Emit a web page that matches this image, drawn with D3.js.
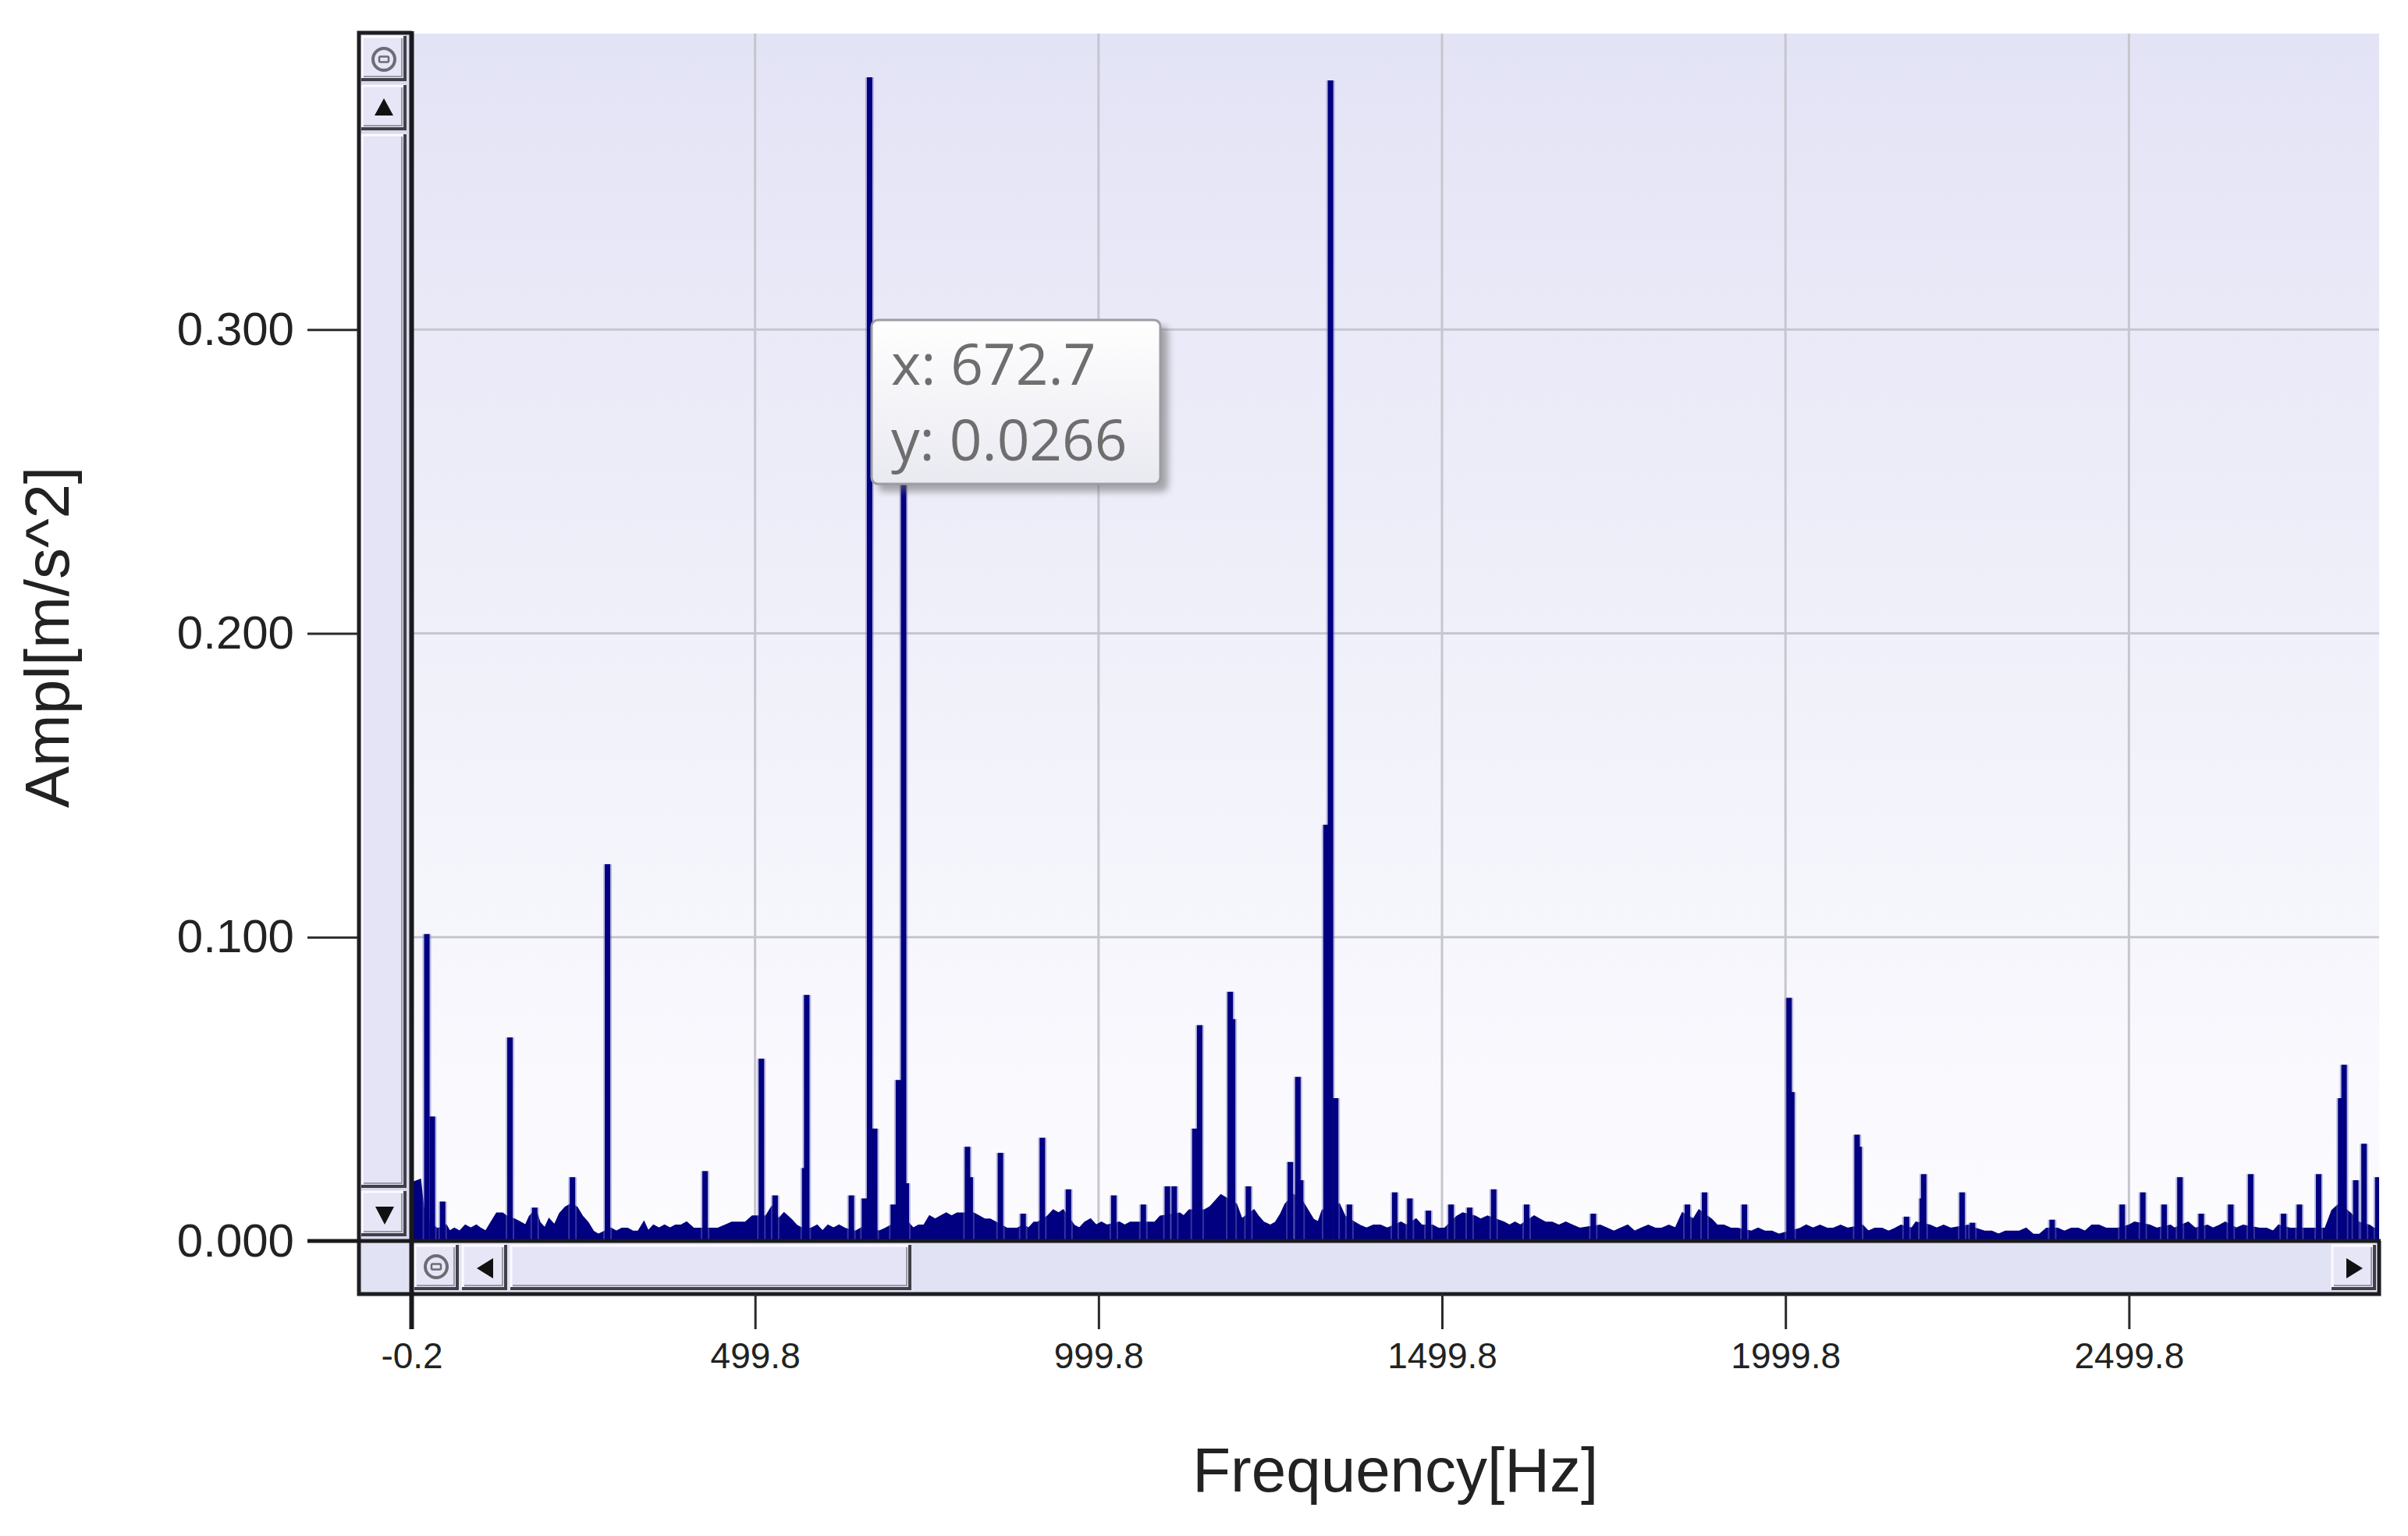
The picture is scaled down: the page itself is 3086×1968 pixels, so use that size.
<!DOCTYPE html>
<html><head><meta charset="utf-8">
<script src="https://cdn.jsdelivr.net/npm/d3@7"></script>
<style>html,body{margin:0;padding:0;background:#fff;} svg{display:block}</style>
</head><body>
<svg id="chart" width="3086" height="1968"></svg>
<script>
// ---------------- DATA ----------------
const xTickValues = [-0.2, 499.8, 999.8, 1499.8, 1999.8, 2499.8];
const xTickLabels = ["-0.2", "499.8", "999.8", "1499.8", "1999.8", "2499.8"];
const yTickValues = [0, 0.1, 0.2, 0.3];
const yTickLabels = ["0.000", "0.100", "0.200", "0.300"];
const xTitle = "Frequency[Hz]";
const yTitle = "Ampl[m/s^2]";
const tooltipLines = ["x: 672.7", "y: 0.0266"];

// noise floor of the spectrum: [Hz, amplitude]
const floorPoints = [
 [0,0.019],[12,0.020],[18,0.008],[26,0.006],[36,0.004],[40,0.004],[50,0.005],[55,0.003],[62,0.004],[70,0.003],
 [78,0.005],[86,0.004],[94,0.005],[100,0.004],[108,0.003],[116,0.006],[124,0.009],[132,0.009],[138,0.008],[150,0.007],
 [158,0.006],[166,0.005],[172,0.008],[180,0.010],[186,0.006],[194,0.004],[200,0.007],[208,0.005],[216,0.009],[224,0.011],
 [232,0.012],[240,0.011],[248,0.008],[256,0.006],[264,0.003],[272,0.002],[290,0.004],[298,0.003],[306,0.004],[314,0.004],
 [322,0.003],[330,0.003],[338,0.006],[344,0.003],[352,0.005],[360,0.004],[368,0.005],[376,0.004],[384,0.005],[392,0.005],
 [400,0.006],[410,0.004],[418,0.004],[436,0.004],[446,0.004],[456,0.005],[466,0.006],[476,0.006],[486,0.006],[496,0.008],
 [516,0.008],[524,0.011],[534,0.007],[542,0.009],[552,0.007],[560,0.005],[568,0.004],[582,0.004],[590,0.005],[598,0.003],
 [606,0.005],[614,0.004],[622,0.005],[630,0.004],[646,0.003],[654,0.004],[662,0.005],[680,0.003],[690,0.004],[698,0.005],
 [704,0.004],[722,0.006],[730,0.004],[738,0.005],[746,0.005],[754,0.008],[762,0.007],[770,0.008],[778,0.009],[786,0.008],
 [794,0.009],[800,0.009],[818,0.009],[826,0.008],[834,0.007],[842,0.007],[850,0.006],[866,0.004],[874,0.004],[882,0.004],
 [890,0.005],[898,0.004],[906,0.006],[912,0.006],[926,0.008],[934,0.010],[942,0.009],[948,0.010],[964,0.005],[972,0.004],
 [980,0.006],[988,0.007],[996,0.005],[1004,0.006],[1012,0.005],[1030,0.006],[1038,0.005],[1046,0.006],[1054,0.006],[1074,0.006],
 [1082,0.006],[1090,0.008],[1118,0.009],[1124,0.008],[1132,0.010],[1154,0.010],[1162,0.011],[1170,0.013],[1178,0.015],[1200,0.012],
 [1208,0.007],[1226,0.010],[1232,0.008],[1240,0.006],[1250,0.005],[1258,0.006],[1266,0.009],[1272,0.012],[1284,0.015],[1296,0.013],
 [1304,0.010],[1312,0.007],[1320,0.006],[1326,0.010],[1350,0.012],[1358,0.008],[1372,0.006],[1380,0.005],[1390,0.004],[1400,0.005],
 [1410,0.005],[1420,0.004],[1440,0.006],[1448,0.005],[1462,0.007],[1470,0.005],[1486,0.005],[1494,0.004],[1504,0.004],[1522,0.008],
 [1530,0.009],[1548,0.008],[1556,0.007],[1566,0.008],[1590,0.006],[1598,0.005],[1606,0.006],[1614,0.005],[1634,0.008],[1642,0.007],
 [1650,0.006],[1660,0.006],[1670,0.005],[1680,0.006],[1690,0.005],[1700,0.004],[1730,0.005],[1740,0.004],[1750,0.003],[1760,0.004],
 [1770,0.005],[1780,0.003],[1790,0.004],[1800,0.005],[1810,0.004],[1820,0.004],[1830,0.005],[1840,0.004],[1850,0.009],[1866,0.007],
 [1874,0.010],[1892,0.007],[1900,0.005],[1910,0.005],[1920,0.004],[1930,0.004],[1950,0.003],[1960,0.004],[1970,0.003],[1980,0.003],
 [1990,0.002],[2022,0.004],[2030,0.005],[2040,0.004],[2050,0.005],[2060,0.004],[2070,0.004],[2080,0.005],[2090,0.004],[2112,0.005],
 [2120,0.003],[2130,0.004],[2140,0.004],[2150,0.003],[2160,0.004],[2168,0.005],[2184,0.004],[2190,0.006],[2210,0.005],[2220,0.004],
 [2230,0.005],[2240,0.004],[2266,0.005],[2276,0.004],[2290,0.003],[2300,0.003],[2310,0.002],[2320,0.003],[2330,0.003],[2340,0.003],
 [2350,0.004],[2360,0.002],[2370,0.002],[2380,0.004],[2396,0.004],[2406,0.003],[2416,0.004],[2426,0.004],[2436,0.003],[2446,0.005],
 [2456,0.005],[2466,0.004],[2476,0.004],[2484,0.004],[2500,0.005],[2508,0.006],[2530,0.005],[2540,0.004],[2560,0.005],[2566,0.004],
 [2586,0.006],[2596,0.004],[2614,0.005],[2622,0.004],[2632,0.005],[2640,0.006],[2656,0.004],[2666,0.005],[2690,0.004],[2700,0.004],
 [2710,0.003],[2718,0.005],[2734,0.004],[2742,0.004],[2756,0.004],[2766,0.004],[2786,0.004],[2796,0.010],[2806,0.012],[2822,0.009],
 [2834,0.006],[2850,0.005],[2856,0.004],[2864,0.004]
];
// spectral lines: [Hz, amplitude]
const peakPoints = [
 [22,0.101],[30,0.041],[45,0.013],[143,0.067],[179,0.011],[234,0.021],[285,0.124],[427,0.023],[509,0.060],[529,0.015],
 [572,0.024],[575,0.081],[640,0.015],[659,0.014],[666.5,0.383],[674,0.037],[701,0.012],[708.5,0.053],[716,0.262],[720,0.019],
 [809,0.031],[813,0.021],[857,0.029],[890,0.009],[918,0.034],[956,0.017],[1022,0.015],[1065,0.012],[1100,0.018],[1110,0.018],
 [1140,0.037],[1147,0.071],[1191.5,0.082],[1195,0.073],[1218,0.018],[1279,0.026],[1290,0.054],[1294,0.020],[1331,0.137],[1337.5,0.382],
 [1345,0.047],[1365,0.012],[1431,0.016],[1453,0.014],[1480,0.010],[1513,0.012],[1540,0.011],[1575,0.017],[1623,0.012],[1720,0.009],
 [1857,0.012],[1882,0.016],[1940,0.012],[2005,0.080],[2009,0.049],[2104,0.035],[2107,0.031],[2176,0.008],[2199,0.014],[2201,0.022],
 [2257,0.016],[2272,0.006],[2388,0.007],[2490,0.012],[2520,0.016],[2551,0.012],[2574,0.021],[2605,0.009],[2648,0.012],[2677,0.022],
 [2725,0.009],[2748,0.012],[2776,0.022],[2808,0.047],[2813,0.058],[2830,0.020],[2842,0.032],[2862,0.021]
];

// ---------------- LAYOUT ----------------
const L = 527.5, R = 3049, T = 43, B = 1590;
const FL = 460, FB = 1658;           // frame left / bottom
const navy = "#000080";

const svg = d3.select("#chart");
const defs = svg.append("defs");

const bg = defs.append("linearGradient").attr("id","bg").attr("x1",0).attr("y1",0).attr("x2",0).attr("y2",1);
bg.append("stop").attr("offset","0%").attr("stop-color","#e3e3f6");
bg.append("stop").attr("offset","50%").attr("stop-color","#f0f0fa");
bg.append("stop").attr("offset","100%").attr("stop-color","#fcfcff");

const tg = defs.append("linearGradient").attr("id","tipbg").attr("x1",0).attr("y1",0).attr("x2",0).attr("y2",1);
tg.append("stop").attr("offset","0%").attr("stop-color","#ffffff");
tg.append("stop").attr("offset","100%").attr("stop-color","#e9e9f1");

const sh = defs.append("filter").attr("id","shadow").attr("x","-20%").attr("y","-20%").attr("width","150%").attr("height","150%");
sh.append("feGaussianBlur").attr("stdDeviation",5);

const clip = defs.append("clipPath").attr("id","plotclip");
clip.append("rect").attr("x",L).attr("y",T).attr("width",R-L).attr("height",B-T);

const x = d3.scaleLinear().domain([-0.2, 2864]).range([L, R]);
const y = d3.scaleLinear().domain([0, 0.3974]).range([B, T]);

// plot background
svg.append("rect").attr("x",L).attr("y",T).attr("width",R-L).attr("height",B-T).attr("fill","url(#bg)");

// grid
const grid = svg.append("g").attr("stroke","#c6c6ce").attr("stroke-width",3);
grid.selectAll("line.vx").data(xTickValues.slice(1)).join("line")
  .attr("x1",d=>x(d)).attr("x2",d=>x(d)).attr("y1",T).attr("y2",B);
grid.selectAll("line.hy").data(yTickValues.slice(1)).join("line")
  .attr("x1",L).attr("x2",R).attr("y1",d=>y(d)).attr("y2",d=>y(d));

// spectrum
const spec = svg.append("g").attr("clip-path","url(#plotclip)");
const area = d3.area().x(d=>x(d[0])).y0(B).y1(d=>y(d[1]));
spec.append("path").datum(floorPoints).attr("d",area).attr("fill",navy)
  .attr("stroke",navy).attr("stroke-width",3).attr("stroke-linejoin","miter");
spec.selectAll("line.halo").data(peakPoints).join("line")
  .attr("x1",d=>x(d[0])).attr("x2",d=>x(d[0])).attr("y1",B).attr("y2",d=>y(d[1]))
  .attr("stroke","#7070c0").attr("stroke-opacity",0.45).attr("stroke-width",11);
spec.selectAll("line.pk").data(peakPoints).join("line")
  .attr("x1",d=>x(d[0])).attr("x2",d=>x(d[0])).attr("y1",B).attr("y2",d=>y(d[1]))
  .attr("stroke",navy).attr("stroke-width",7);

// ---------------- SCROLLBARS ----------------
const ui = svg.append("g");
function bevel(g, bx, by, bw, bh, fill) {
  g.append("rect").attr("x",bx).attr("y",by).attr("width",bw).attr("height",bh).attr("fill",fill||"#e6e6f7");
  g.append("path").attr("d",`M${bx+1},${by+bh-2} V${by+1} H${bx+bw-2}`).attr("fill","none").attr("stroke","#fbfbff").attr("stroke-width",3);
  g.append("path").attr("d",`M${bx},${by+bh-2} H${bx+bw-2} V${by}`).attr("fill","none").attr("stroke","#404046").attr("stroke-width",4);
  g.append("path").attr("d",`M${bx+3},${by+bh-6} H${bx+bw-6} V${by+3}`).attr("fill","none").attr("stroke","#9a9aa8").attr("stroke-width",2);
}
function zoomIcon(g, cx, cy) {
  g.append("circle").attr("cx",cx).attr("cy",cy).attr("r",14).attr("fill","none").attr("stroke","#6c6c74").attr("stroke-width",4);
  g.append("rect").attr("x",cx-6).attr("y",cy-3.5).attr("width",12).attr("height",7).attr("rx",1.5)
    .attr("fill","none").attr("stroke","#6c6c74").attr("stroke-width",2.5);
}
// vertical scrollbar
ui.append("rect").attr("x",FL).attr("y",T).attr("width",L-FL).attr("height",B-T).attr("fill","#d9d9ee");
bevel(ui, 463, 46, 58, 58);
zoomIcon(ui, 492, 76);
bevel(ui, 463, 109, 58, 58);
ui.append("path").attr("d","M480,148 L504,148 L492,126 Z").attr("fill","#111");
bevel(ui, 463, 172, 58, 1350, "#e4e4f6");
bevel(ui, 463, 1526, 58, 58);
ui.append("path").attr("d","M481,1546 L505,1546 L493,1569 Z").attr("fill","#111");
ui.append("path").attr("d",`M${FL},${B} V${T-1} H${L}`).attr("fill","none").attr("stroke","#1e1e22").attr("stroke-width",5);

// horizontal scrollbar
ui.append("rect").attr("x",FL).attr("y",B).attr("width",R-FL).attr("height",FB-B).attr("fill","#e2e2f5");
bevel(ui, 531, 1595, 57, 58);
zoomIcon(ui, 559, 1623);
bevel(ui, 592, 1595, 58, 58);
ui.append("path").attr("d","M611,1625 L632,1612 L632,1638 Z").attr("fill","#111");
bevel(ui, 654, 1595, 514, 58, "#e4e4f6");
bevel(ui, 2988, 1595, 57, 58);
ui.append("path").attr("d","M3007,1612 L3007,1638 L3028,1625 Z").attr("fill","#111");
ui.append("path").attr("d",`M${FL},${B} V${FB} H${R} V${B}`).attr("fill","none").attr("stroke","#1e1e22").attr("stroke-width",5);

// ---------------- AXES ----------------
const yAxis = d3.axisLeft(y).tickValues(yTickValues).tickFormat((d,i)=>yTickLabels[i]).tickSize(64).tickPadding(17);
const yg = svg.append("g").attr("transform",`translate(${FL-2},0)`).call(yAxis);
yg.select(".domain").remove();
yg.selectAll(".tick line").attr("stroke","#2a2a2a").attr("stroke-width",3);
yg.selectAll(".tick text").attr("font-family","'Liberation Sans', Arial, sans-serif").attr("font-size",60).attr("fill","#222");

const xAxis = d3.axisBottom(x).tickValues(xTickValues).tickFormat((d,i)=>xTickLabels[i]).tickSize(45).tickPadding(17);
const xg = svg.append("g").attr("transform",`translate(0,${FB})`).call(xAxis);
xg.select(".domain").remove();
xg.selectAll(".tick line").attr("stroke","#2a2a2a").attr("stroke-width",3);
xg.selectAll(".tick text").attr("font-family","'Liberation Sans', Arial, sans-serif").attr("font-size",46).attr("fill","#222");

// axis lines
svg.append("line").attr("x1",FL-66).attr("x2",R+2).attr("y1",B).attr("y2",B).attr("stroke","#1a1a1e").attr("stroke-width",5);
svg.append("line").attr("x1",L).attr("x2",L).attr("y1",T-3).attr("y2",FB+45).attr("stroke","#1a1a1e").attr("stroke-width",6);

// titles
svg.append("text").attr("x",(L+R)/2).attr("y",1911).attr("text-anchor","middle")
  .attr("font-family","'Liberation Sans', Arial, sans-serif").attr("font-size",80).attr("fill","#222").text(xTitle);
svg.append("text").attr("transform",`translate(88,${(T+B)/2}) rotate(-90)`).attr("text-anchor","middle")
  .attr("font-family","'Liberation Sans', Arial, sans-serif").attr("font-size",80).attr("fill","#222").text(yTitle);

// ---------------- TOOLTIP ----------------
const tip = svg.append("g");
tip.append("rect").attr("x",1125).attr("y",418).attr("width",372).attr("height",212).attr("rx",8)
  .attr("fill","#666").attr("opacity",0.55).attr("filter","url(#shadow)");
tip.append("rect").attr("x",1117).attr("y",410).attr("width",370).attr("height",210).attr("rx",8)
  .attr("fill","url(#tipbg)").attr("stroke","#9c9ca2").attr("stroke-width",3);
tip.selectAll("text").data(tooltipLines).join("text")
  .attr("x",1142).attr("y",(d,i)=>493+i*97)
  .attr("font-family","'Open Sans', 'Noto Sans', sans-serif").attr("font-size",73).attr("fill","#6e6e6e")
  .text(d=>d);
</script>
</body></html>
